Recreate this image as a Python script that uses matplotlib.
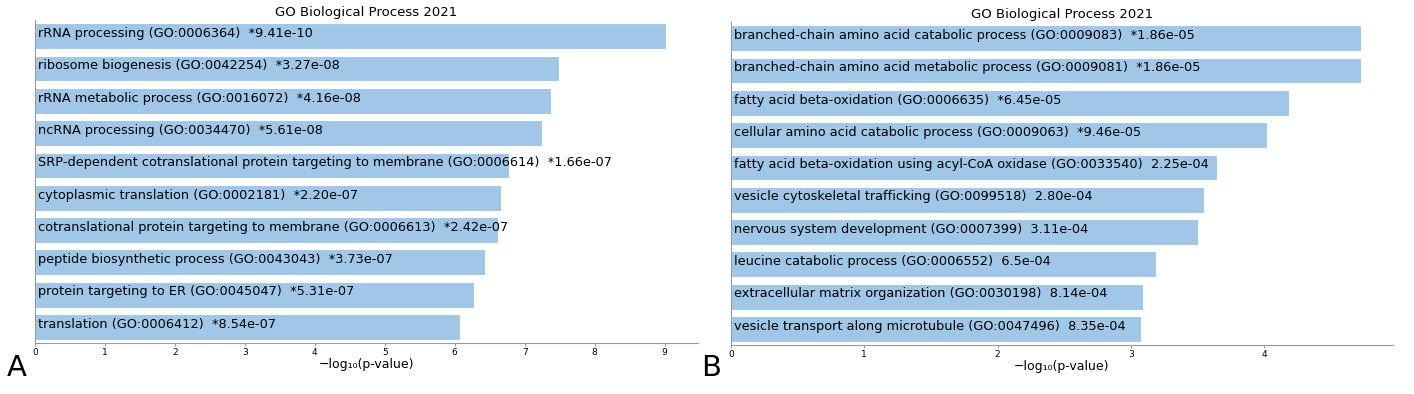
import matplotlib.pyplot as plt
from matplotlib.ticker import MultipleLocator

# panel A: GO terms, -log10(p) and labels
terms_a = [
    "rRNA processing (GO:0006364)",
    "ribosome biogenesis (GO:0042254)",
    "rRNA metabolic process (GO:0016072)",
    "ncRNA processing (GO:0034470)",
    "SRP-dependent cotranslational protein targeting to membrane (GO:0006614)",
    "cytoplasmic translation (GO:0002181)",
    "cotranslational protein targeting to membrane (GO:0006613)",
    "peptide biosynthetic process (GO:0043043)",
    "protein targeting to ER (GO:0045047)",
    "translation (GO:0006412)",
]
pvals_a = ["*9.41e-10", "*3.27e-08", "*4.16e-08", "*5.61e-08", "*1.66e-07",
           "*2.20e-07", "*2.42e-07", "*3.73e-07", "*5.31e-07", "*8.54e-07"]
score_a = [9.026, 7.485, 7.381, 7.251, 6.780, 6.658, 6.616, 6.428, 6.275, 6.069]

# panel B
terms_b = [
    "branched-chain amino acid catabolic process (GO:0009083)",
    "branched-chain amino acid metabolic process (GO:0009081)",
    "fatty acid beta-oxidation (GO:0006635)",
    "cellular amino acid catabolic process (GO:0009063)",
    "fatty acid beta-oxidation using acyl-CoA oxidase (GO:0033540)",
    "vesicle cytoskeletal trafficking (GO:0099518)",
    "nervous system development (GO:0007399)",
    "leucine catabolic process (GO:0006552)",
    "extracellular matrix organization (GO:0030198)",
    "vesicle transport along microtubule (GO:0047496)",
]
pvals_b = ["*1.86e-05", "*1.86e-05", "*6.45e-05", "*9.46e-05", "2.25e-04",
           "2.80e-04", "3.11e-04", "6.5e-04", "8.14e-04", "8.35e-04"]
score_b = [4.730, 4.730, 4.190, 4.024, 3.648, 3.553, 3.507, 3.187, 3.089, 3.078]

bar_color = "#a0c7e8"

fig = plt.figure(figsize=(14.14, 3.94), dpi=100)
ax_a = fig.add_axes([0.0248, 0.129, 0.4688, 0.820])
ax_b = fig.add_axes([0.517, 0.124, 0.468, 0.820])


def draw(ax, terms, pvals, scores):
    ypos = list(range(len(terms)))
    ax.barh(ypos, scores, height=0.8, color=bar_color, edgecolor="white", linewidth=0.8)
    for y, t, p in zip(ypos, terms, pvals):
        ax.annotate(f"{t}  {p}", xy=(0, y), xytext=(2, 2), textcoords="offset points",
                    va="center", ha="left", fontsize=9.3, color="black")
    ax.set_ylim(len(terms) - 0.5, -0.5)
    ax.set_xlim(0, max(scores) * 1.05)
    ax.xaxis.set_major_locator(MultipleLocator(1))
    ax.set_yticks([])
    ax.spines["top"].set_visible(False)
    ax.spines["right"].set_visible(False)
    ax.spines["left"].set_color("#999999")
    ax.spines["bottom"].set_color("#999999")
    ax.tick_params(axis="x", labelsize=6.5, length=2, pad=1.5, color="#999999")
    ax.set_xlabel("−log₁₀(p-value)", fontsize=9, labelpad=1)
    ax.set_title("GO Biological Process 2021", fontsize=9.5, pad=3)


draw(ax_a, terms_a, pvals_a, score_a)
draw(ax_b, terms_b, pvals_b, score_b)

fig.text(0.005, 0.045, "A", fontsize=21)
fig.text(0.496, 0.045, "B", fontsize=21)

fig.savefig("out.png", dpi=100)
